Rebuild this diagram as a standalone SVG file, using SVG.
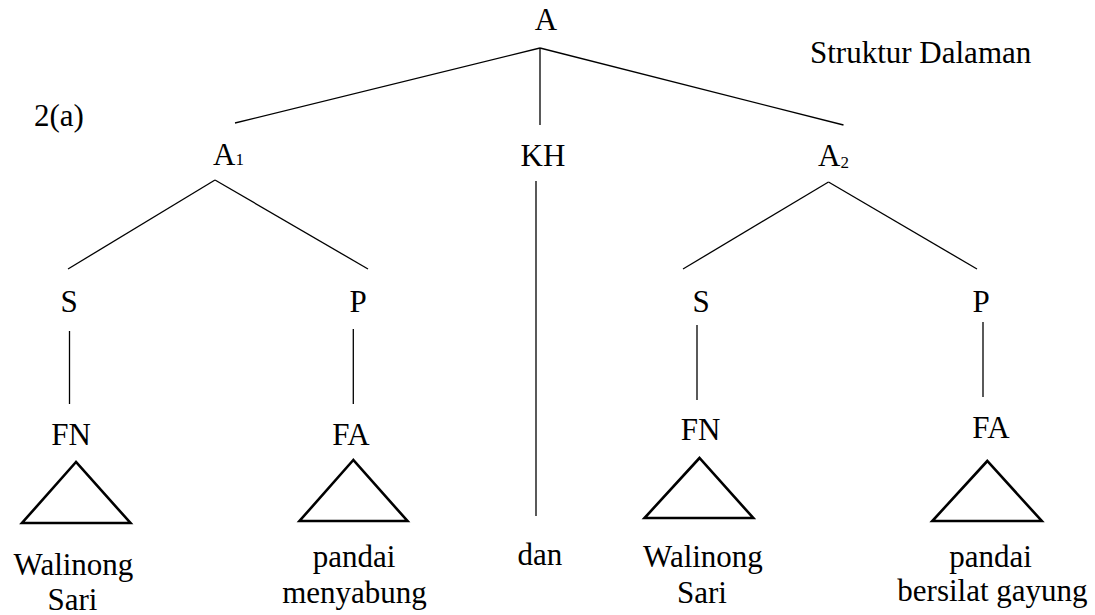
<svg xmlns="http://www.w3.org/2000/svg" width="1095" height="615" viewBox="0 0 1095 615">
<style>
text { font-size: 31px; fill: #000; }
.m { text-anchor: middle; }
.sub { font-size: 17px; }
.edge { stroke: #000; stroke-width: 1.3; fill: none; }
.tri { stroke: #000; stroke-width: 2.6; fill: none; stroke-linejoin: miter; }
</style>
<rect width="1095" height="615" fill="#fff"/>
<g id="connectors">
<line class="edge" x1="540" y1="48" x2="235" y2="123"/>
<line class="edge" x1="540" y1="48" x2="540" y2="125"/>
<line class="edge" x1="540" y1="48" x2="843.5" y2="125"/>
<line class="edge" x1="536" y1="181" x2="536" y2="516"/>
<line class="edge" x1="215" y1="180" x2="68" y2="269"/>
<line class="edge" x1="215" y1="180" x2="368" y2="269"/>
<line class="edge" x1="828.5" y1="182" x2="683" y2="269"/>
<line class="edge" x1="828.5" y1="182" x2="977" y2="269"/>
<line class="edge" x1="69.5" y1="331" x2="69.5" y2="404"/>
<line class="edge" x1="353.3" y1="329" x2="353.3" y2="404"/>
<line class="edge" x1="697" y1="325" x2="697" y2="400"/>
<line class="edge" x1="983" y1="322" x2="983" y2="397"/>
</g>
<g font-family="Liberation Serif, Times New Roman, serif">
<g id="label-title"><text x="810" y="63">Struktur Dalaman</text></g>
<g id="label-2a"><text x="34" y="126" font-size="30">2(a)</text></g>
<g id="node-A"><text class="m" x="546" y="30">A</text></g>
<g id="node-A1"><text x="213" y="165">A<tspan class="sub">1</tspan></text></g>
<g id="node-KH"><text class="m" x="543" y="166">KH</text></g>
<g id="node-A2"><text x="818" y="166">A<tspan class="sub" dy="2">2</tspan></text></g>
<g id="node-S1"><text class="m" x="69" y="312">S</text></g>
<g id="node-P1"><text class="m" x="358" y="312">P</text></g>
<g id="node-S2"><text class="m" x="701" y="312">S</text></g>
<g id="node-P2"><text class="m" x="981" y="312">P</text></g>
<g id="node-FN1"><text class="m" x="71" y="445">FN</text><polygon class="tri" points="76,462 22,523 130.5,523"/></g>
<g id="node-FA1"><text class="m" x="351" y="445">FA</text><polygon class="tri" points="353.3,460 299.5,521 407.5,521"/></g>
<g id="node-FN2"><text class="m" x="700.5" y="440">FN</text><polygon class="tri" points="699.5,458 644.5,518 753.3,518"/></g>
<g id="node-FA2"><text class="m" x="991" y="438">FA</text><polygon class="tri" points="987.3,461 932.3,521 1041.8,521"/></g>
<g id="leaf-1"><text class="m" x="73.5" y="575">Walinong</text><text class="m" x="72.5" y="610">Sari</text></g>
<g id="leaf-2"><text class="m" x="354" y="567">pandai</text><text class="m" x="354.5" y="603">menyabung</text></g>
<g id="leaf-dan"><text class="m" x="540" y="565">dan</text></g>
<g id="leaf-3"><text class="m" x="703" y="567">Walinong</text><text class="m" x="702" y="603">Sari</text></g>
<g id="leaf-4"><text class="m" x="990.5" y="567">pandai</text><text class="m" x="992.5" y="601">bersilat gayung</text></g>
</g>
</svg>
